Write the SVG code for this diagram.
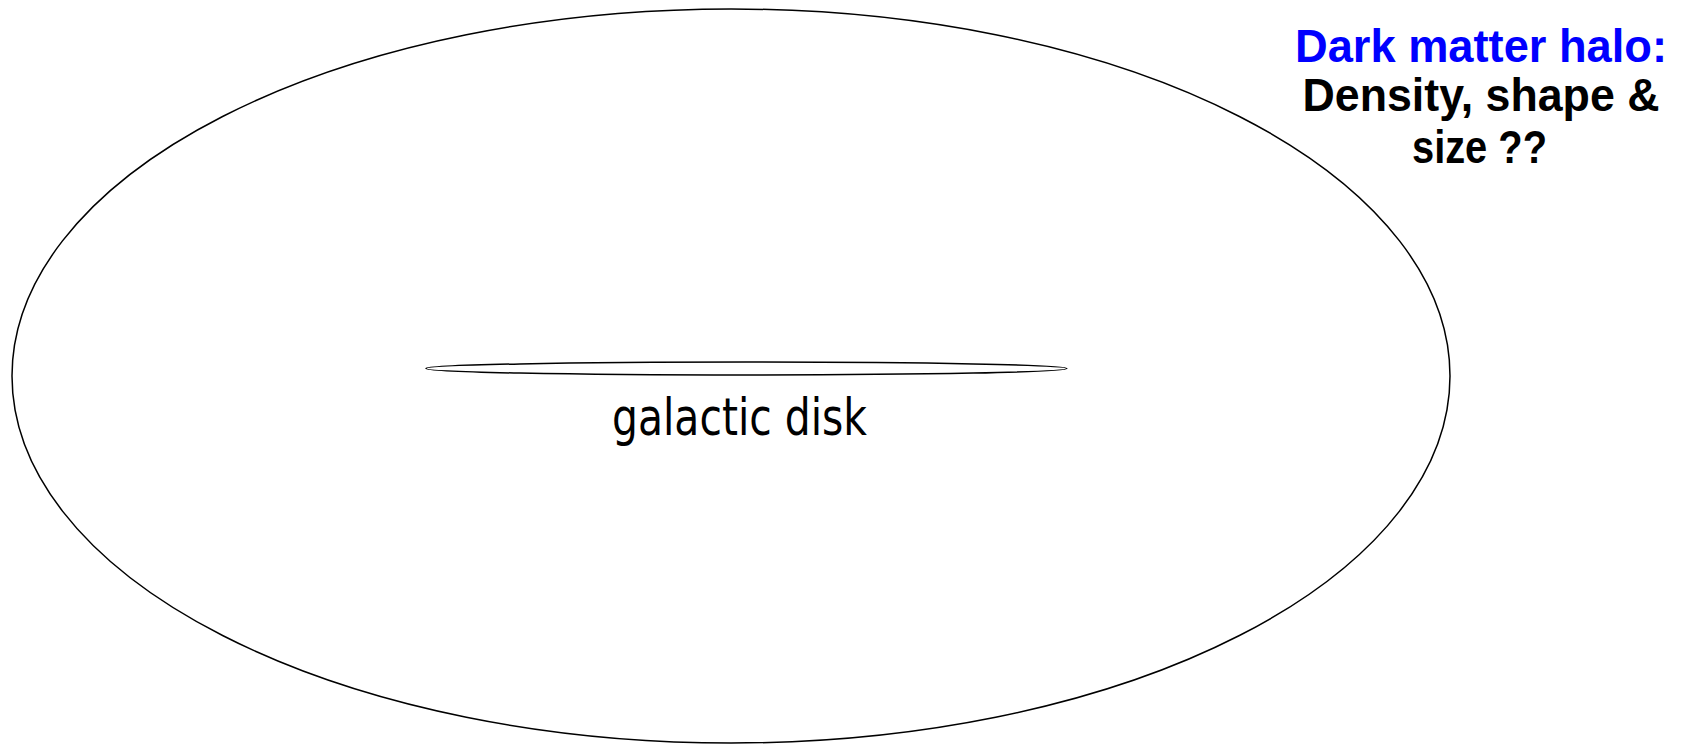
<svg xmlns="http://www.w3.org/2000/svg" width="1691" height="745" viewBox="0 0 1691 745">
<style>
.shape{fill:none;stroke:#000;stroke-width:1.5}
.lbl{font-family:"DejaVu Sans","Liberation Sans",sans-serif;font-size:52px;fill:#000}
.hd{font-family:"Liberation Sans",Arial,sans-serif;font-size:46px;font-weight:bold;text-anchor:middle}
</style>
<rect width="1691" height="745" fill="#fff"/>
<g id="halo">
<ellipse class="shape" cx="731" cy="376" rx="719" ry="367"/>
</g>
<g id="disk">
<ellipse class="shape" cx="746.5" cy="368.5" rx="320.5" ry="6.5"/>
<text class="lbl" x="612" y="435" textLength="255" lengthAdjust="spacingAndGlyphs">galactic disk</text>
</g>
<g id="halo-label">
<text class="hd" x="1481" y="62" fill="#0000FF" textLength="372" lengthAdjust="spacingAndGlyphs">Dark matter halo:</text>
<text class="hd" x="1481" y="111" fill="#000" textLength="357" lengthAdjust="spacingAndGlyphs">Density, shape &amp;</text>
<text class="hd" x="1479.5" y="163" fill="#000" textLength="135" lengthAdjust="spacingAndGlyphs">size ??</text>
</g>
<g id="connectors"></g>
</svg>
